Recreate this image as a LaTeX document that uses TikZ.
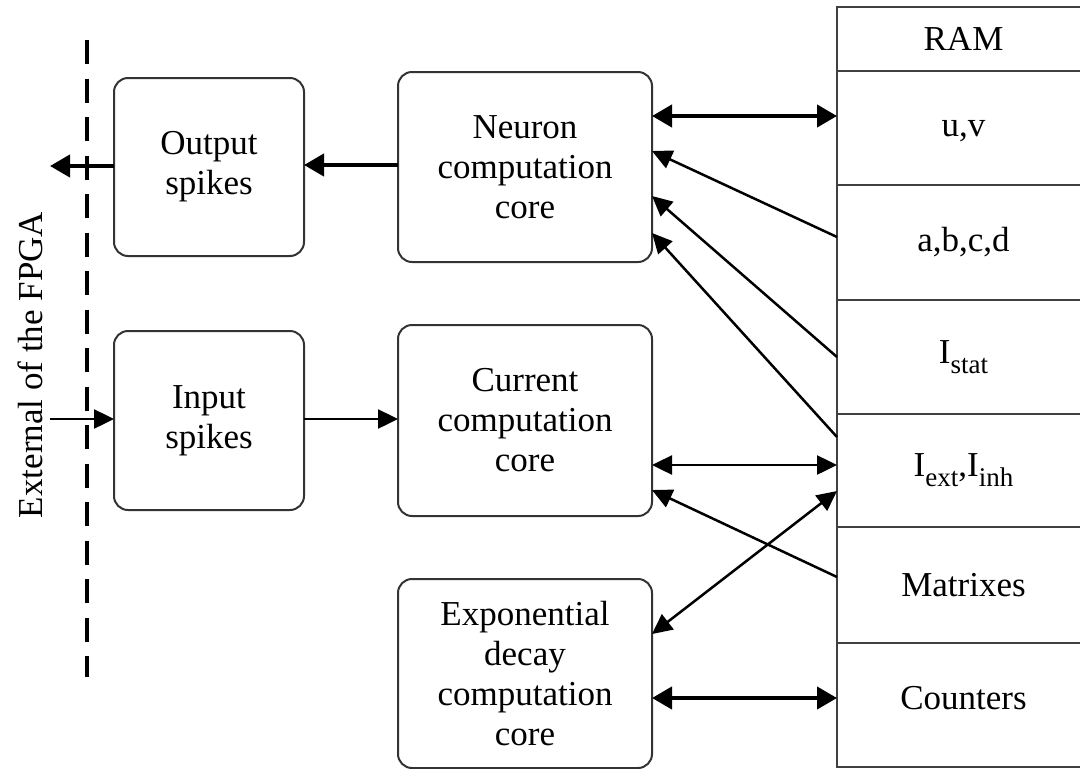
\documentclass[tikz,border=0pt]{standalone}
\usepackage{fontspec}
\setmainfont{Liberation Serif}
\usetikzlibrary{arrows.meta}
\newcommand\rsub[1]{\raisebox{-10pt}{\fontsize{27}{27}\selectfont #1}}
\begin{document}
\begin{tikzpicture}[x=1pt,y=-1pt,
  every node/.style={font=\fontsize{35}{40}\selectfont, text=black},
  blk/.style={draw=black!80, line width=2pt, rounded corners=14pt, align=center, inner sep=0pt, outer sep=0pt},
  cell/.style={draw=black!75, line width=1.8pt, minimum width=253pt, inner sep=0pt, outer sep=0pt, anchor=west},
  thk/.style={line width=4.2pt, -{Triangle[length=20pt,width=22pt]}},
  thkd/.style={line width=4.2pt, {Triangle[length=20pt,width=22pt]}-{Triangle[length=20pt,width=22pt]}},
  thn/.style={line width=2.5pt, -{Triangle[length=20pt,width=19pt]}},
  thnd/.style={line width=2.5pt, {Triangle[length=20pt,width=19pt]}-{Triangle[length=20pt,width=19pt]}},
  border/.style={line width=4pt, dash pattern=on 24pt off 14.5pt}
]
\useasboundingbox (0,0) rectangle (1080,769);

% dashed boundary and its label
\coordinate (dtop) at (87,40);
\coordinate (dbot) at (87,677);
\draw[border] (dtop) -- (dbot);
\node[rotate=90] (ext) at (30,365) {External of the FPGA};

% blocks
\node[blk, minimum width=190pt, minimum height=178pt] (out) at (209,167) {Output\\spikes};
\node[blk, minimum width=254pt, minimum height=190pt] (neu) at (525,167) {Neuron\\computation\\core};
\node[blk, minimum width=190pt, minimum height=179pt] (inp) at (209,420.5) {Input\\spikes};
\node[blk, minimum width=254pt, minimum height=191pt] (cur) at (525,420.5) {Current\\computation\\core};
\node[blk, minimum width=254pt, minimum height=189pt] (exd) at (525,673.5) {Exponential\\decay\\computation\\core};

% RAM table
\node[cell, minimum height=64pt]  (ram)   at (837,39)    {RAM};
\node[cell, minimum height=114pt, text depth=0pt] (uv) at (837,128) {u,v};
\node[cell, minimum height=115pt] (abcd)  at (837,242.5) {a,b,c,d};
\node[cell, minimum height=114pt] (istat) at (837,357)   {I\rsub{stat}};
\node[cell, minimum height=113pt] (iext)  at (837,470.5) {I\rsub{ext},I\rsub{inh}};
\node[cell, minimum height=116pt] (matr)  at (837,585)   {Matrixes};
\node[cell, minimum height=124pt, text depth=14pt] (cnt) at (837,705) {Counters};

% external ends
\coordinate (outend) at (50,166);
\coordinate (inend) at (50,419);

% connectors
\draw[thk] (out.west |- 0,166) -- (outend);
\draw[thn] (inend) -- (inp.west |- 0,419);
\draw[thn] (inp.east |- 0,419) -- (cur.west |- 0,419);
\draw[thk] (neu.west |- 0,165) -- (out.east |- 0,165);
\draw[thkd] (neu.east |- 0,116) -- (uv.west |- 0,116);
\draw[thn] (abcd.west |- 0,237) -- (neu.east |- 0,151);
\draw[thn] (istat.west |- 0,357) -- (neu.east |- 0,196);
\draw[thn] (iext.west |- 0,437) -- (neu.east |- 0,233);
\draw[thnd] (cur.east |- 0,465) -- (iext.west |- 0,465);
\draw[thn] (matr.west |- 0,577) -- (cur.east |- 0,490);
\draw[thnd] (exd.east |- 0,634) -- (iext.west |- 0,491);
\draw[thkd] (exd.east |- 0,698) -- (cnt.west |- 0,698);
\end{tikzpicture}
\end{document}
